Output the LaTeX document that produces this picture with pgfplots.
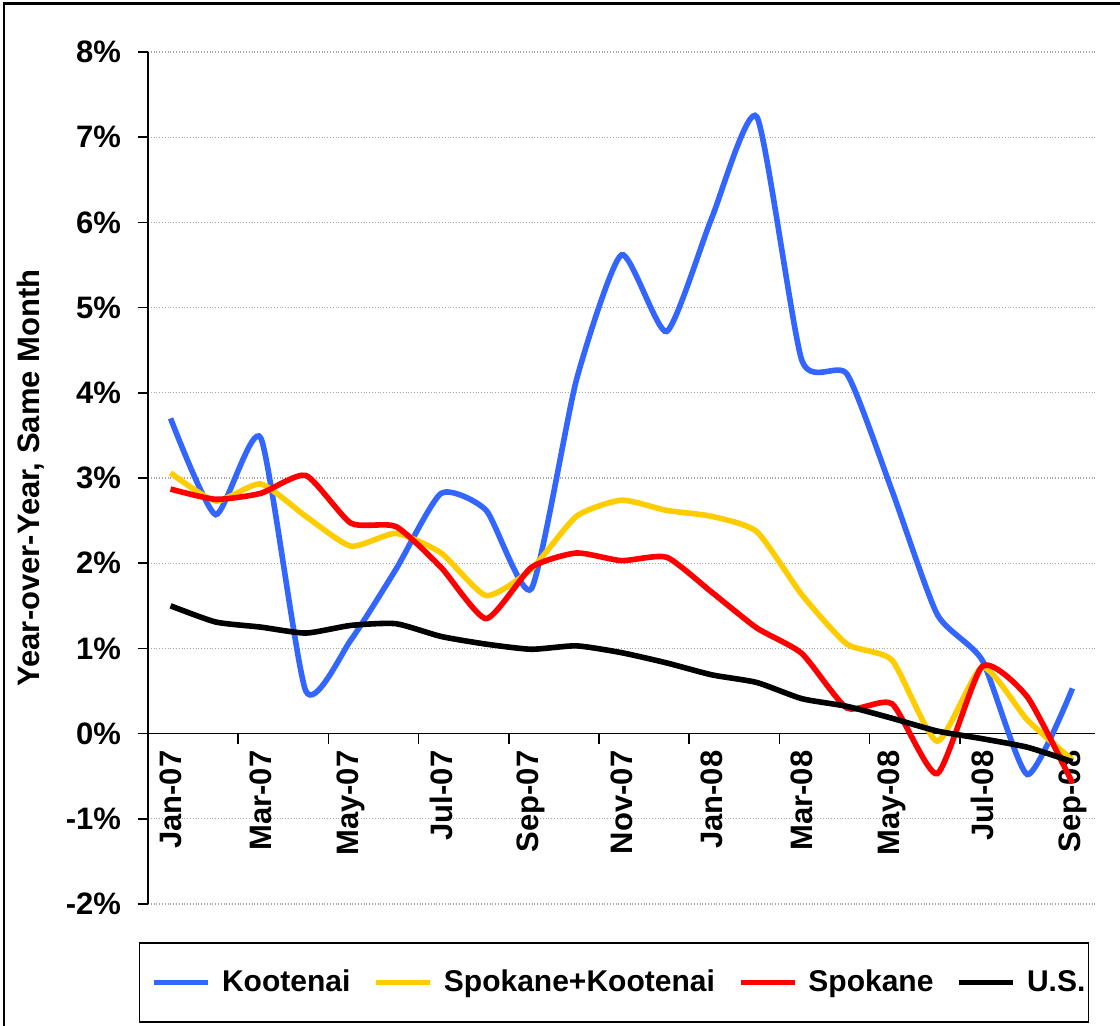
\documentclass[border=0pt]{standalone}
\usepackage{fontspec}
\setmainfont{Liberation Sans}
\usepackage{pgfplots}
\pgfplotsset{compat=1.18}
\definecolor{koot}{RGB}{51,102,255}
\definecolor{spkoot}{RGB}{255,204,0}
\definecolor{spok}{RGB}{255,0,0}
\newcommand{\tf}{\fontsize{15.5}{18}\selectfont\bfseries}
\begin{document}
\begin{tikzpicture}
\path[use as bounding box] (0pt,0pt) rectangle (560pt,-513pt);
\draw[line width=1.3pt] (2pt,-515pt) -- (2pt,-1.9pt) -- (562pt,-1.9pt);
\begin{axis}[
  at={(74pt,-452pt)}, anchor=south west,
  width=473.5pt, height=426pt, scale only axis,
  xmin=-0.5, xmax=20.5, ymin=-2, ymax=8,
  axis x line=middle, axis y line=left,
  axis line style={-, line width=0.8pt, black},
  hide obscured x ticks=false, hide obscured y ticks=false,
  tick align=outside,
  ytick={-2,-1,0,1,2,3,4,5,6,7,8},
  yticklabels={-2\%,-1\%,0\%,1\%,2\%,3\%,4\%,5\%,6\%,7\%,8\%},
  xtick={0,2,4,6,8,10,12,14,16,18,20},
  xticklabels={Jan-07,Mar-07,May-07,Jul-07,Sep-07,Nov-07,Jan-08,Mar-08,May-08,Jul-08,Sep-08},
  minor xtick={-0.5,1.5,3.5,5.5,7.5,9.5,11.5,13.5,15.5,17.5,19.5},
  major x tick style={draw=none},
  minor x tick style={line width=0.8pt, black},
  y tick style={line width=0.8pt, black},
  major tick length=5pt, minor tick length=5pt,
  ymajorgrids,
  major grid style={gray!70, densely dotted, line width=0.6pt},
  ticklabel style={font=\tf},
  xticklabel style={rotate=90, anchor=east},
  yticklabel style={anchor=east, xshift=-5pt},
  ylabel={Year-over-Year, Same Month},
  every axis y label/.style={at={(axis description cs:-0.1235,0.5)}, rotate=90, anchor=center, font=\tf},
  legend columns=4,
  legend style={at={(axis description cs:0.492,-0.0921)}, anchor=center,
    draw=black, line width=0.9pt, inner xsep=3pt, inner ysep=11.75pt,
    font=\fontsize{15}{18}\selectfont\bfseries,
    /tikz/every even column/.append style={column sep=6.5pt}},
  legend image code/.code={\path (-3pt,0pt); \draw[#1] (0pt,0pt) -- (27pt,0pt); \path (30.5pt,0pt);},
  every axis plot/.append style={line width=2.8pt, smooth, tension=0.35},
]
\addplot[koot] coordinates {
(0,3.70) (1,2.57) (2,3.47) (3,0.50) (4,1.10) (5,1.93) (6,2.82) (7,2.62) (8,1.70) (9,4.15)
(10,5.62) (11,4.72) (12,6.05) (13,7.24) (14,4.38) (15,4.22) (16,2.85) (17,1.40) (18,0.86) (19,-0.48) (20,0.53)};
\addlegendentry{Kootenai}
\addplot[spkoot] coordinates {
(0,3.06) (1,2.73) (2,2.93) (3,2.55) (4,2.20) (5,2.35) (6,2.12) (7,1.62) (8,1.93) (9,2.55)
(10,2.74) (11,2.62) (12,2.55) (13,2.37) (14,1.63) (15,1.05) (16,0.86) (17,-0.09) (18,0.78) (19,0.16) (20,-0.31)};
\addlegendentry{Spokane+Kootenai}
\addplot[spok] coordinates {
(0,2.87) (1,2.75) (2,2.82) (3,3.03) (4,2.47) (5,2.43) (6,1.95) (7,1.35) (8,1.95) (9,2.12)
(10,2.03) (11,2.07) (12,1.66) (13,1.24) (14,0.94) (15,0.30) (16,0.35) (17,-0.47) (18,0.79) (19,0.43) (20,-0.58)};
\addlegendentry{Spokane}
\addplot[black] coordinates {
(0,1.50) (1,1.31) (2,1.25) (3,1.18) (4,1.27) (5,1.29) (6,1.14) (7,1.05) (8,0.99) (9,1.03)
(10,0.95) (11,0.83) (12,0.69) (13,0.60) (14,0.41) (15,0.32) (16,0.18) (17,0.03) (18,-0.06) (19,-0.16) (20,-0.33)};
\addlegendentry{U.S.\hspace*{-3.5pt}}
\end{axis}
\end{tikzpicture}
\end{document}
